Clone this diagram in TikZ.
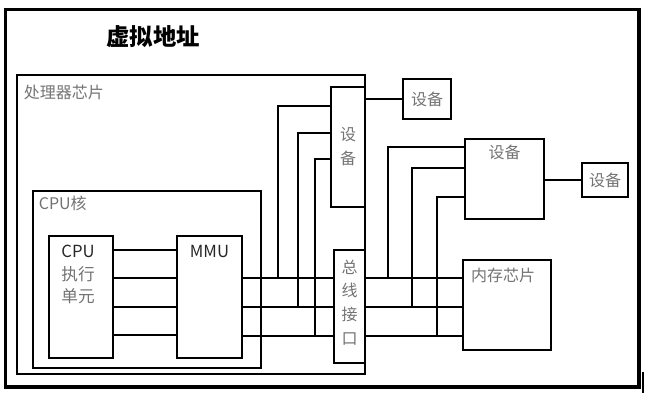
\documentclass[tikz,border=0pt]{standalone}
\usepackage{fontspec}
\setmainfont{Noto Sans CJK SC}
\usetikzlibrary{fit,calc}

\tikzset{
  box/.style={draw, line width=2.2pt, inner sep=0pt},
  wire/.style={line width=2.2pt},
  lbl/.style={font=\fontsize{12}{18}\selectfont, text=black!55, inner sep=0pt, align=center},
}

\begin{document}
\begin{tikzpicture}[x=0.75pt, y=-0.75pt]
  \useasboundingbox (0,0) rectangle (647,402);
  % outer frame
  \draw[line width=2.6pt] (5.5,9.5) rectangle (639,387);
  \draw[line width=2.2pt] (643,372) -- (643,393);
  \node[font=\fontsize{17.5}{20}\selectfont\bfseries, inner sep=0pt] (title) at (153,37) {虚拟地址};
  % chip and its parts
  \node[box, fit={(17,75) (365,374)}] (proc) {};
  \node[box, fit={(33,191) (261,368)}] (core) {};
  \node[box, fit={(49,236) (113,358)}] (exec) {};
  \node[box, fit={(177,236) (242,358)}] (mmu) {};
  \node[box, fit={(331,87) (365,207)}] (devA) {};
  \node[box, fit={(334,250) (365,363)}] (bus) {};
  % outside the chip
  \node[box, fit={(403,79) (451,119)}] (dev1) {};
  \node[box, fit={(465,139) (544,219)}] (dev2) {};
  \node[box, fit={(463,260) (551,350)}] (mem) {};
  \node[box, fit={(582,163) (628,197)}] (dev3) {};
  % texts
  \node[lbl, anchor=west] (procT) at ($(proc.north west)+(8,19)$) {处理器芯片};
  \node[lbl, anchor=west] (coreT) at ($(core.north west)+(7,14)$) {CPU核};
  \node[lbl, text=black!85, font=\fontsize{12.5}{16.5}\selectfont] (execT) at ($(exec.north)+(-3,40)$) {CPU\\[1pt]\textcolor{black!55}{执行}\\\textcolor{black!55}{单元}};
  \node[lbl, text=black!85, font=\fontsize{12.5}{18}\selectfont] (mmuT) at ($(mmu.north)+(0,17)$) {MMU};
  \node[lbl] (devAT) at (devA.center) {设\\备};
  \node[lbl, font=\fontsize{12}{17.8}\selectfont] (busT) at ($(bus.center)+(0,-4)$) {总\\线\\接\\口};
  \node[lbl] (dev1T) at (dev1.center) {设备};
  \node[lbl] (dev2T) at ($(dev2.north)+(0,15)$) {设备};
  \node[lbl] (memT) at ($(mem.north)+(-4,17)$) {内存芯片};
  \node[lbl] (dev3T) at (dev3.center) {设备};
  % wires
  \foreach \y in {250,278,307,335}
    \draw[wire] (exec.east |- 0,\y) -- (mmu.west |- 0,\y);
  \foreach \y in {278,307,336} {
    \draw[wire] (mmu.east |- 0,\y) -- (bus.west |- 0,\y);
    \draw[wire] (bus.east |- 0,\y) -- (mem.west |- 0,\y);
  }
  \foreach \x/\y/\t in {278/278/106, 298/307/133, 315/336/159}
    \draw[wire] (\x,\y) |- (devA.west |- 0,\t);
  \foreach \x/\y/\t in {388/278/147, 412/307/168, 437/336/197}
    \draw[wire] (\x,\y) |- (dev2.west |- 0,\t);
  \draw[wire] (dev1.west) -- (dev1.west -| proc.east);
  \draw[wire] (dev2.east |- dev3.west) -- (dev3.west);
\end{tikzpicture}
\end{document}
